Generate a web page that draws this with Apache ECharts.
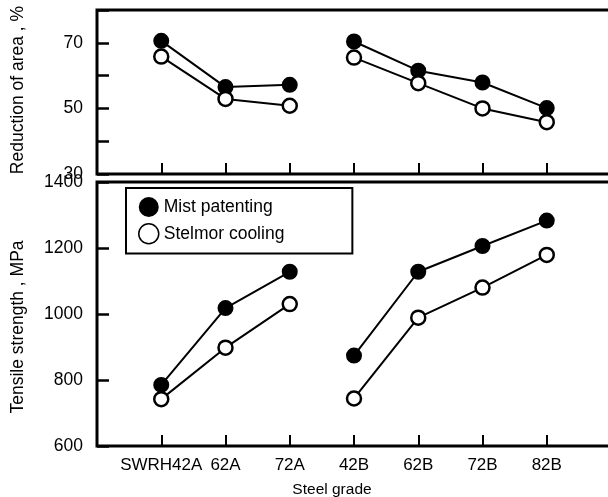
<!DOCTYPE html>
<html>
<head>
<meta charset="utf-8">
<script src="https://cdn.jsdelivr.net/npm/echarts@6/dist/echarts.min.js"></script>
<style>html,body{margin:0;padding:0;background:#fff;}#c{width:608px;height:497px;}</style>
</head>
<body>
<div id="c"></div>
<script>
var categories = ['SWRH42A', '62A', '72A', '42B', '62B', '72B', '82B'];
var mistArea = [70.6, 56.5, 57.2, 70.4, 61.5, 57.9, 50.1];
var stelmorArea = [65.8, 52.9, 50.8, 65.5, 57.7, 50.0, 45.8];
var mistTensile = [785, 1018, 1128, 874, 1128, 1206, 1283];
var stelmorTensile = [742, 898, 1030, 744, 989, 1080, 1179];
var areaTicks = [30, 50, 70];
var tensileTicks = [600, 800, 1000, 1200, 1400];

function toData(vals) {
  var out = [];
  for (var i = 0; i < vals.length; i++) {
    if (i === 3) out.push([3.5, null]);
    out.push([i + 1, vals[i]]);
  }
  return out;
}
var FONT = 'Liberation Sans';
var chart = echarts.init(document.getElementById('c'));
function xAx(idx, showLabels) {
  return {
    type: 'value', gridIndex: idx, min: 0, max: 8, interval: 1,
    axisLine: { show: false },
    axisTick: { show: true, inside: true, length: 11, lineStyle: { color: '#000', width: 2 } },
    splitLine: { show: false },
    axisLabel: {
      show: showLabels, color: '#000', fontFamily: FONT, fontSize: 17, margin: 11,
      formatter: function (v) { return (v >= 1 && v <= categories.length) ? categories[v - 1] : ''; }
    },
    name: showLabels ? 'Steel grade' : '', nameLocation: 'middle', nameGap: 36,
    nameTextStyle: { color: '#000', fontFamily: FONT, fontSize: 15.5, padding: [0, 44, 0, 0] }
  };
}
var mistStyle = { color: '#000', borderColor: '#000', borderWidth: 2 };
var stelStyle = { color: '#fff', borderColor: '#000', borderWidth: 2.5 };
function ser(name, vals, xi, yi, st) {
  return {
    name: name, type: 'line', xAxisIndex: xi, yAxisIndex: yi, data: toData(vals),
    symbol: 'circle', symbolSize: 14, showSymbol: true, connectNulls: false,
    lineStyle: { color: '#000', width: 2 }, itemStyle: st, animation: false, z: 3
  };
}
chart.setOption({
  animation: false,
  backgroundColor: '#fff',
  grid: [
    { left: 97, top: 10, width: 514, height: 164, show: true, borderColor: '#000', borderWidth: 3, backgroundColor: '#fff', outerBoundsMode: 'none', containLabel: false },
    { left: 97, top: 182, width: 514, height: 264, show: true, borderColor: '#000', borderWidth: 3, backgroundColor: '#fff', outerBoundsMode: 'none', containLabel: false }
  ],
  legend: {
    left: 126, top: 188, orient: 'vertical', icon: 'circle',
    itemWidth: 20, itemHeight: 20, itemGap: 6,
    padding: [9, 68, 9, 12],
    borderColor: '#000', borderWidth: 2, backgroundColor: '#fff',
    textStyle: { color: '#000', fontFamily: FONT, fontSize: 17.5 },
    data: [
      { name: 'Mist patenting', itemStyle: { color: '#000', borderWidth: 0 } },
      { name: 'Stelmor cooling', itemStyle: { color: '#fff', borderColor: '#000', borderWidth: 1.5 } }
    ]
  },
  xAxis: [xAx(0, false), xAx(1, true)],
  yAxis: [
    {
      type: 'value', gridIndex: 0, min: 30, max: 80, interval: 10,
      axisLine: { show: false }, splitLine: { show: false },
      axisTick: { show: true, inside: true, length: 12, lineStyle: { color: '#000', width: 2.5 } },
      axisLabel: { color: '#000', fontFamily: FONT, fontSize: 17.5, margin: 14,
        formatter: function (v) { return areaTicks.indexOf(v) >= 0 ? String(v) : ''; } },
      name: 'Reduction of area , %', nameLocation: 'middle', nameGap: 70,
      nameTextStyle: { color: '#000', fontFamily: FONT, fontSize: 17.5, padding: [0, 0, 0, 4] }
    },
    {
      type: 'value', gridIndex: 1, min: 600, max: 1400, interval: 200,
      axisLine: { show: false }, splitLine: { show: false },
      axisTick: { show: true, inside: true, length: 12, lineStyle: { color: '#000', width: 2.5 } },
      axisLabel: { color: '#000', fontFamily: FONT, fontSize: 17.5, margin: 14,
        formatter: function (v) { return tensileTicks.indexOf(v) >= 0 ? String(v) : ''; } },
      name: 'Tensile strength , MPa', nameLocation: 'middle', nameGap: 70,
      nameTextStyle: { color: '#000', fontFamily: FONT, fontSize: 17.5, padding: [0, 26, 0, 0] }
    }
  ],
  series: [
    ser('Mist patenting', mistArea, 0, 0, mistStyle),
    ser('Stelmor cooling', stelmorArea, 0, 0, stelStyle),
    ser('Mist patenting', mistTensile, 1, 1, mistStyle),
    ser('Stelmor cooling', stelmorTensile, 1, 1, stelStyle)
  ]
});
</script>
</body>
</html>
